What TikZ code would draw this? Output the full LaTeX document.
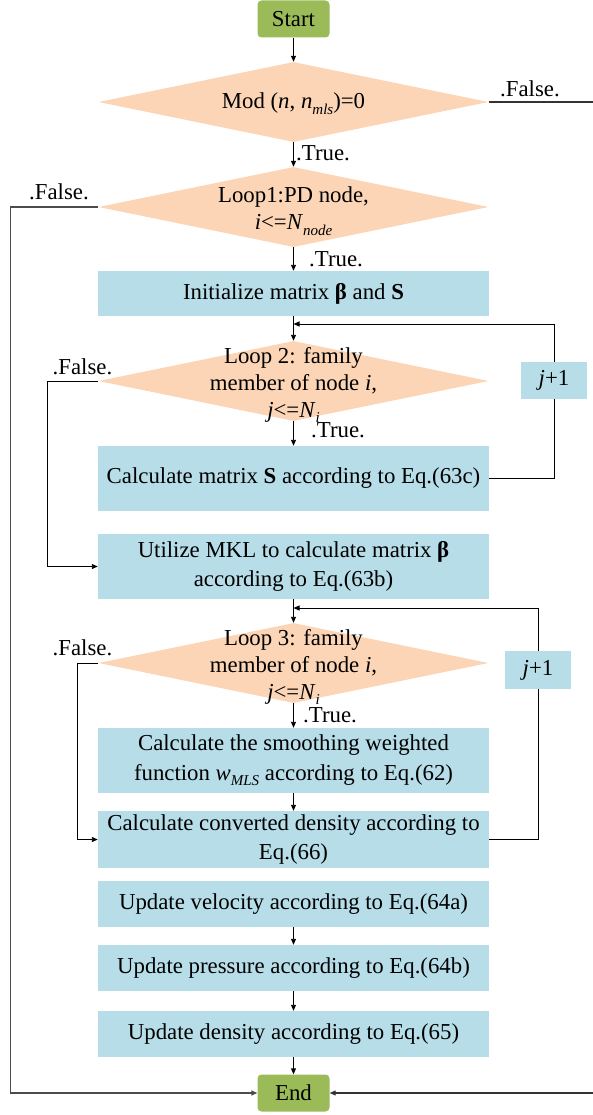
\documentclass[tikz,border=0pt]{standalone}
\usepackage{fontspec}
\setmainfont{Liberation Serif}
\usetikzlibrary{shapes.geometric,arrows.meta}
\definecolor{termgreen}{HTML}{9BBB59}
\definecolor{decpeach}{HTML}{FBD5B5}
\definecolor{procblue}{HTML}{B7DDE8}
% lowered italic index, e.g. N_node
\newcommand{\lowidx}[1]{\raisebox{-0.55ex}{\fontsize{15}{15}\selectfont\textit{#1}}}

\begin{document}
\begin{tikzpicture}[x=1pt,y=-1pt,
  every node/.style={font=\fontsize{22.8}{26.5}\selectfont, text=black},
  term/.style={rectangle, rounded corners=4pt, fill=termgreen,
    minimum width=72pt, minimum height=37pt, inner sep=0pt},
  decision/.style={diamond, fill=decpeach, minimum width=390pt,
    minimum height=80pt, inner sep=0pt},
  dtext/.style={align=center, font=\fontsize{22.8}{27}\selectfont},
  proc/.style={rectangle, fill=procblue, minimum width=391pt,
    inner sep=0pt, align=center, font=\fontsize{22.8}{29.5}\selectfont},
  incr/.style={rectangle, fill=procblue, minimum width=66pt,
    minimum height=37pt, inner sep=0pt},
  lbl/.style={anchor=base west, inner sep=0pt},
  flow/.style={draw=black, line width=0.9pt, -{Triangle[length=6pt,width=5pt]}},
  plain/.style={draw=black, line width=0.9pt},
  outer/.style={draw=black!70, line width=1.4pt, -{Triangle[length=6pt,width=5pt]}},
]
\useasboundingbox (0,0) rectangle (592,1115);

% terminals
\node[term] (start) at (293.5,19) {Start};
\node[term] (end) at (293.5,1093) {End};

% decisions
\node[decision] (d1) at (293.5,102) {};
\node[dtext] (d1t) at (293.5,104) {Mod (\textit{n}, \textit{n}\lowidx{mls})=0};
\node[decision] (d2) at (293.5,207) {};
\node[dtext] (d2t) at (293.5,211) {Loop1:PD node,\\\textit{i}<=\textit{N}\lowidx{node}};
\node[decision] (d3) at (293.5,381) {};
\node[dtext] (d3t) at (293.5,385) {Loop 2: family\\member of node \textit{i},\\\textit{j}<=\textit{N}\lowidx{i}};
\node[decision] (d4) at (293.5,663) {};
\node[dtext] (d4t) at (293.5,667) {Loop 3: family\\member of node \textit{i},\\\textit{j}<=\textit{N}\lowidx{i}};

% process boxes
\node[proc, minimum height=45pt] (init) at (293.5,293.5) {Initialize matrix \textbf{β} and \textbf{S}};
\node[proc, minimum height=65pt] (calcS) at (293.5,478.5) {Calculate matrix \textbf{S} according to Eq.(63c)};
\node[proc, minimum height=65pt] (mkl) at (293.5,566.5) {Utilize MKL to calculate matrix \textbf{β}\\according to Eq.(63b)};
\node[proc, minimum height=65pt] (smooth) at (293.5,760.5) {Calculate the smoothing weighted\\function \textit{w}\lowidx{MLS} according to Eq.(62)};
\node[proc, minimum height=57pt] (conv) at (293.5,839.5) {Calculate converted density according to\\Eq.(66)};
\node[proc, minimum height=46pt] (vel) at (293.5,904) {Update velocity according to Eq.(64a)};
\node[proc, minimum height=46pt] (pres) at (293.5,968) {Update pressure according to Eq.(64b)};
\node[proc, minimum height=46pt] (dens) at (293.5,1034) {Update density according to Eq.(65)};

% loop counters
\node[incr] (jp1a) at (554,380.5) {\textit{j}+1};
\node[incr, minimum height=38pt] (jp1b) at (538,670) {\textit{j}+1};

% return points of the inner loops
\coordinate (ret2) at (293.5,324);
\coordinate (ret3) at (293.5,608);

% main flow
\draw[flow] (start) -- (d1);
\draw[flow] (d1) -- (d2);
\draw[flow] (d2) -- (init);
\draw[flow] (init) -- (d3);
\draw[flow] (d3) -- (calcS);
\draw[flow] (mkl) -- (d4);
\draw[flow] (d4) -- (smooth);
\draw[flow] (smooth) -- (conv);
\draw[flow] (vel) -- (pres);
\draw[flow] (pres) -- (dens);
\draw[flow] (dens) -- (end);

% inner loop returns
\draw[plain] (calcS.east) -| (jp1a.south);
\draw[flow] (jp1a.north) |- (ret2);
\draw[plain] (conv.east) -| (jp1b.south);
\draw[flow] (jp1b.north) |- (ret3);

% false branches
\draw[flow] (d3.west) -- ++(-50.5,0) |- (mkl.west);
\draw[flow] (d4.west) -- ++(-20.5,0) |- (conv.west);
\draw[outer] (d2.west) -- ++(-88,0) |- (end.west);
\draw[flow, draw=black!80, line width=1.1pt] (d1.east) -- ++(107,0) |- (end.east);

% branch labels
\node[lbl] (t1) at (296,161) {.True.};
\node[lbl] (t2) at (309,266) {.True.};
\node[lbl] (t3) at (311,437) {.True.};
\node[lbl] (t4) at (303,722) {.True.};
\node[lbl] (f1) at (500,97) {.False.};
\node[lbl] (f2) at (29,200) {.False.};
\node[lbl] (f3) at (52.5,374) {.False.};
\node[lbl] (f4) at (52.5,655) {.False.};
\end{tikzpicture}
\end{document}
